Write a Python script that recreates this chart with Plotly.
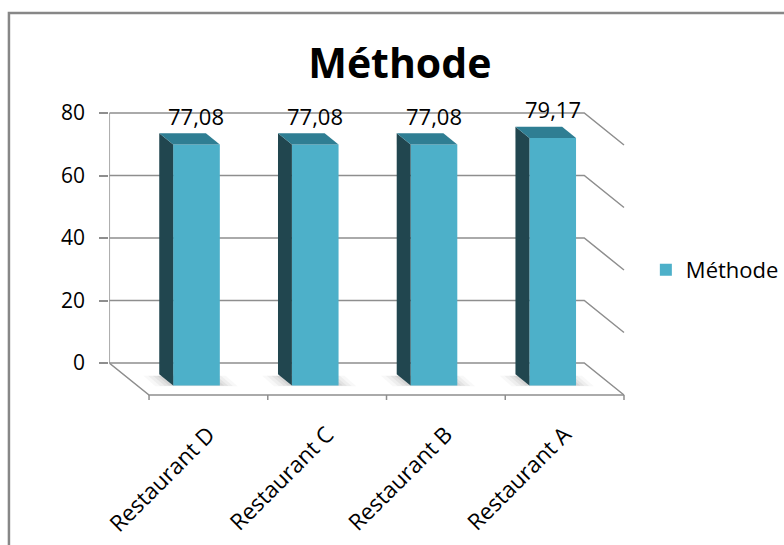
import plotly.graph_objects as go

# ---- data ----
categories = ["Restaurant D", "Restaurant C", "Restaurant B", "Restaurant A"]
values = [77.08, 77.08, 77.08, 79.17]
series_name = "Méthode"
chart_title = "Méthode"
y_ticks = [0, 20, 40, 60, 80]

# ---- 3D look: back wall scale and depth offsets ----
W, H = 784, 545
PX_PER_CAT = 119.5          # pixels per category on the back wall
PX_PER_VAL = 3.125          # pixels per value unit
WALL_LEFT_PX = 110          # pixel x of the wall's left edge
WALL_ZERO_PX = 363          # pixel y of the value 0 on the wall
DEPTH_PX = (40, 32)         # floor depth (right, down)

DX = DEPTH_PX[0] / PX_PER_CAT
DV = DEPTH_PX[1] / PX_PER_VAL

BACK_D, FRONT_D = 0.35, 0.70   # depth of the bar's back and front faces
BAR_W = 0.393

FRONT_COLOR = "#4db0c9"
SIDE_COLOR = "#21464f"
TOP_COLOR = "#2f7e93"
GRID_COLOR = "#8e8e8e"
FONT = "Open Sans"

n = len(categories)
x_left, x_right = -0.5, n - 0.5


def proj(x, v, d):
    """Shift a wall point (x, v) forward by depth fraction d."""
    return x + DX * d, v - DV * d


def path(points, close=False):
    s = "M " + " L ".join(f"{x},{y}" for x, y in points)
    return s + (" Z" if close else "")


# axis domains / ranges so that the wall scale holds in pixels
dom_x = [WALL_LEFT_PX / W, 645 / W]
rng_x = [x_left, x_left + (645 - WALL_LEFT_PX) / PX_PER_CAT]
top_px, bot_px = 100, 400
dom_y = [(H - bot_px) / H, (H - top_px) / H]
rng_y = [(WALL_ZERO_PX - bot_px) / PX_PER_VAL, (WALL_ZERO_PX - top_px) / PX_PER_VAL]

shapes = []
line_style = dict(color=GRID_COLOR, width=1.5)

# back-wall gridlines running onto the right side wall
for t in y_ticks:
    pts = [(x_left, t), (x_right, t), proj(x_right, t, 1)]
    shapes.append(dict(type="path", path=path(pts), xref="x", yref="y",
                       line=line_style, layer="below"))

# left edge of the wall
shapes.append(dict(type="line", xref="x", yref="y", x0=x_left, x1=x_left,
                   y0=y_ticks[0], y1=y_ticks[-1], line=line_style, layer="below"))

# floor outline
floor = [(x_left, 0), proj(x_left, 0, 1), proj(x_right, 0, 1)]
shapes.append(dict(type="path", path=path(floor), xref="x", yref="y",
                   line=line_style, layer="below"))

# category tick marks on the front edge of the floor
tick_len = 7 / PX_PER_VAL
for k in range(n + 1):
    bx, bv = proj(x_left + k, 0, 1)
    shapes.append(dict(type="line", xref="x", yref="y", x0=bx, x1=bx,
                       y0=bv, y1=bv - tick_len, line=line_style, layer="below"))

# soft floor shadows under each bar
for i, v in enumerate(values):
    cx, cv = proj(i, 0, FRONT_D)
    for grow, op in [(0.15, 0.05), (0.11, 0.07), (0.07, 0.09), (0.035, 0.11)]:
        x0 = cx - BAR_W / 2 - grow
        x1 = cx + BAR_W / 2 + grow
        pts = [(x0 - DX * 0.3, cv + DV * 0.3), (x1 - DX * 0.3, cv + DV * 0.3),
               (x1, cv - grow * 2), (x0, cv - grow * 2)]
        shapes.append(dict(type="path", path=path(pts, True), xref="x", yref="y",
                           fillcolor=f"rgba(110,110,110,{op})", line=dict(width=0),
                           layer="below"))

# side and top faces of each bar
bar_x = [i + DX * FRONT_D for i in range(n)]
bar_base = -DV * FRONT_D
shift = BACK_D - FRONT_D
for xc, v in zip(bar_x, values):
    xl, xr = xc - BAR_W / 2, xc + BAR_W / 2
    vb, vt = bar_base, v + bar_base
    fl_b, fl_t, fr_t = (xl, vb), (xl, vt), (xr, vt)
    bl_b, bl_t, br_t = proj(*fl_b, shift), proj(*fl_t, shift), proj(*fr_t, shift)
    shapes.append(dict(type="path", path=path([fl_b, fl_t, bl_t, bl_b], True),
                       xref="x", yref="y", fillcolor=SIDE_COLOR, line=dict(width=0)))
    shapes.append(dict(type="path", path=path([fl_t, fr_t, br_t, bl_t], True),
                       xref="x", yref="y", fillcolor=TOP_COLOR, line=dict(width=0)))

# outer chart frame
shapes.append(dict(type="rect", xref="paper", yref="paper",
                   x0=9 / W, x1=1.05, y0=-0.05, y1=(H - 13) / H,
                   line=dict(color="#878787", width=2.5)))

# value labels above bars
annotations = [
    dict(x=xc, y=v + bar_base, xref="x", yref="y", yshift=29, showarrow=False,
         text=f"{v:.2f}".replace(".", ","), font=dict(family=FONT, size=22, color="#000"))
    for xc, v in zip(bar_x, values)
]

fig = go.Figure()
fig.add_trace(go.Bar(
    x=bar_x, y=values, base=bar_base, width=BAR_W, name=series_name,
    marker=dict(color=FRONT_COLOR, line=dict(width=0)), showlegend=True,
    hoverinfo="skip",
))

fig.update_layout(
    width=W, height=H,
    margin=dict(l=0, r=0, t=0, b=0),
    paper_bgcolor="white", plot_bgcolor="rgba(0,0,0,0)",
    title=dict(text=f"<b>{chart_title}</b>", x=0.51, xanchor="center",
               y=(H - 64) / H, yanchor="middle",
               font=dict(family=FONT, size=41, color="#000")),
    font=dict(family=FONT, size=21, color="#000"),
    shapes=shapes, annotations=annotations,
    showlegend=True,
    legend=dict(x=650 / W, xanchor="left", y=(H - 270) / H, yanchor="middle",
                font=dict(family=FONT, size=22, color="#000"),
                bgcolor="rgba(0,0,0,0)"),
    xaxis=dict(domain=dom_x, range=rng_x, tickvals=[i + DX for i in range(n)],
               ticktext=categories, tickangle=-45, showgrid=False, zeroline=False,
               showline=False, ticks="", automargin=False, fixedrange=True,
               ticklabelstandoff=16,
               tickfont=dict(family=FONT, size=22.5, color="#000")),
    yaxis=dict(domain=dom_y, range=rng_y, tickvals=y_ticks, showgrid=False,
               zeroline=False, showline=False, ticks="outside", ticklen=9,
               tickcolor=GRID_COLOR, tickwidth=1.5, ticklabelstandoff=10,
               automargin=False, fixedrange=True,
               tickfont=dict(family=FONT, size=21, color="#000")),
)

fig.write_html("out.html")
